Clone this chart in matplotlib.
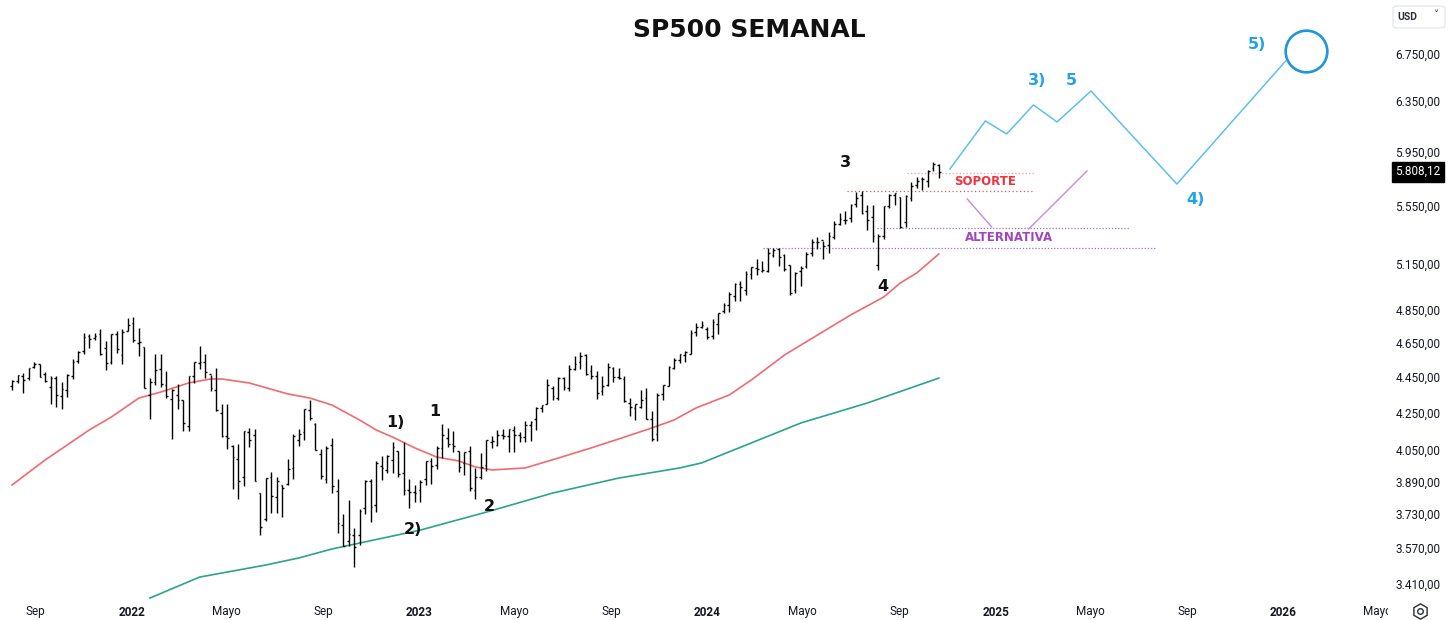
import matplotlib
matplotlib.use("Agg")
import matplotlib.pyplot as plt
import matplotlib.dates as mdates
import matplotlib.transforms as mtrans
from matplotlib.patches import FancyBboxPatch
import numpy as np
import pandas as pd

# ---------------- DATA ----------------
first_week = "2021-08-02"
n_weeks = 169

opens = [4406,4437,4462,4450,4514,4535,4474,4402,4450,4348,4386,4463,4554,4610,4701,4689,4712,4628,4548,4711,4587,4733,
         4778,4655,4632,4357,4431,4505,4412,4332,4355,4327,4188,4462,4541,4547,4474,4385,4256,4130,4081,4013,3920,4151,4135,3838,3715,3920,3818,3880,3883,3965,
         4112,4155,4270,4195,4035,3910,4084,3849,3682,3610,3636,3638,3765,3901,3780,3977,3956,4005,4053,3939,3853,3843,
         3853,3910,3999,3979,4070,4120,4091,4053,3992,4055,3855,3917,3982,4102,4085,4138,4132,4166,4136,4126,4190,4226,4283,4308,4396,4337,4450,4394,4502,4543,
         4585,4492,4464,4380,4415,4510,4458,4446,4310,4285,4289,4342,4225,4140,4364,4406,4511,4555,4587,4594,4725,4758,
         4745,4703,4772,4853,4892,4950,5026,4989,5093,5131,5111,5114,5220,5258,5218,5149,4988,5114,5142,5233,5305,5316,5284,5342,5432,5459,
         5471,5572,5638,5525,5476,5151,5350,5557,5637,5623,5442,5615,5711,5757,5737,5833,5857]
highs = [4442,4468,4480,4513,4546,4536,4486,4465,4466,4429,4475,4560,4608,4718,4715,4718,4744,4672,4713,4731,4741,4808,
         4819,4749,4632,4453,4595,4590,4490,4389,4416,4327,4465,4546,4637,4593,4471,4513,4308,4307,4082,4091,4158,4177,4168,3838,3913,3946,3918,3880,4013,4140,
         4167,4280,4326,4204,4062,4077,4120,3907,3736,3807,3671,3762,3906,3911,3999,4029,4034,4101,4053,4101,3907,3878,
         3906,4003,4015,4078,4195,4176,4156,4054,4049,4079,3964,4040,4110,4133,4163,4170,4170,4187,4154,4212,4213,4291,4298,4448,4409,4458,4456,4528,4578,4607,
         4594,4527,4491,4462,4541,4514,4511,4466,4338,4308,4385,4393,4268,4366,4415,4521,4568,4595,4610,4738,4778,4793,
         4755,4802,4842,4907,4975,5031,5048,5111,5140,5190,5179,5262,5265,5264,5222,5151,5105,5147,5239,5325,5342,5315,5376,5448,5505,5524,
         5570,5655,5669,5566,5566,5360,5555,5643,5651,5623,5636,5733,5767,5767,5822,5879,5863]
lows = [4385,4424,4367,4443,4508,4457,4428,4305,4288,4278,4347,4447,4538,4595,4630,4673,4585,4496,4533,4600,4531,4733,
        4662,4582,4395,4222,4415,4401,4342,4115,4279,4157,4161,4424,4507,4450,4381,4268,4128,4062,3859,3810,3875,4074,3900,3637,3705,3740,3743,3722,3880,3910,
        4079,4113,4218,4057,3907,3887,3838,3647,3585,3584,3491,3591,3735,3698,3746,3906,3938,3937,3918,3828,3764,3795,
        3794,3877,3886,3960,4018,4074,4048,3944,3928,3848,3809,3909,3950,4069,4080,4114,4049,4048,4099,4098,4103,4166,4260,4305,4328,4328,4385,4380,4500,4507,
        4467,4448,4335,4357,4406,4431,4449,4317,4238,4216,4284,4223,4104,4103,4329,4405,4504,4537,4547,4594,4699,4751,
        4682,4682,4714,4843,4846,4918,4920,4953,5057,5086,5104,5107,5204,5146,5108,4954,4968,5012,5128,5212,5257,5191,5234,5328,5420,5433,
        5446,5547,5497,5390,5305,5119,5325,5541,5561,5402,5406,5590,5691,5674,5696,5810,5762]
closes = [4437,4468,4441,4509,4535,4458,4433,4455,4357,4391,4471,4545,4605,4697,4683,4698,4595,4538,4712,4621,4726,4766,
          4677,4663,4398,4432,4501,4419,4349,4385,4329,4204,4463,4543,4546,4488,4393,4272,4132,4123,4024,3901,4158,4109,3901,3675,3912,3825,3899,3863,3962,4130,
          4145,4280,4228,4058,3924,4067,3873,3693,3586,3640,3583,3753,3901,3771,3993,3965,4026,4072,3934,3852,3845,3840,
          3895,3999,3973,4071,4136,4090,4079,3970,4046,3862,3917,3971,4109,4105,4138,4133,4169,4136,4124,4192,4205,4282,4299,4410,4348,4450,4399,4505,4536,4582,
          4478,4464,4370,4406,4515,4457,4450,4320,4288,4308,4327,4224,4117,4358,4415,4514,4559,4595,4604,4719,4755,4770,
          4697,4784,4840,4891,4959,5027,5006,5089,5137,5124,5117,5234,5254,5204,5123,4967,5100,5128,5223,5303,5305,5278,5347,5431,5465,5460,
          5567,5615,5505,5459,5346,5344,5554,5634,5648,5408,5626,5703,5738,5751,5815,5865,5808]

last_price = 5808.12

# moving averages
red_ma_dates = ["2021-08-02","2021-09-13","2021-11-08","2021-12-06","2022-01-10","2022-02-07","2022-03-14",
                "2022-04-11","2022-04-25","2022-05-30","2022-07-18","2022-08-15","2022-09-12","2022-10-17",
                "2022-11-07","2022-11-28","2022-12-26","2023-01-23","2023-02-20","2023-03-13","2023-04-03",
                "2023-05-15","2023-06-26","2023-08-07","2023-09-18","2023-10-23","2023-11-20","2023-12-18",
                "2024-01-29","2024-02-26","2024-04-08","2024-05-20","2024-07-01","2024-08-12","2024-09-02",
                "2024-09-23","2024-10-21"]
red_ma_vals = [3879,4006,4164,4234,4339,4373,4424,4447,4447,4424,4362,4339,4300,4218,4164,4126,4069,4021,
               4001,3970,3955,3965,4016,4069,4126,4175,4218,4284,4356,4441,4586,4706,4829,4942,5032,5098,5224]
green_ma_dates = ["2022-01-24","2022-03-28","2022-06-20","2022-08-01","2022-09-12","2023-01-02","2023-03-27",
                  "2023-06-19","2023-09-11","2023-11-27","2023-12-25","2024-02-26","2024-04-29","2024-07-22",
                  "2024-10-21"]
green_ma_vals = [3353,3445,3499,3531,3572,3660,3746,3839,3914,3965,3991,4095,4202,4311,4452]

# projected path (blue)
proj_dates = ["2024-11-04","2024-12-19","2025-01-15","2025-02-18","2025-03-20","2025-05-02","2025-08-19","2026-01-04"]
proj_vals = [5829,6201,6098,6330,6193,6445,5717,6699]
target_date, target_val = "2026-01-30", 6786

# alternative path (purple)
alt1_dates, alt1_vals = ["2024-11-26","2024-12-27"], [5608,5409]
alt2_dates, alt2_vals = ["2025-02-12","2025-04-27"], [5395,5814]

# horizontal levels: (start, end, price)
soporte_levels = [("2024-09-10","2025-02-19",5801), ("2024-06-26","2025-02-19",5666)]
alt_levels = [("2024-08-03","2025-06-20",5404), ("2024-03-12","2025-07-24",5262)]

wave_labels_black = [("3","2024-06-25",5874),("4","2024-08-11",5007),("1)","2022-12-01",4202),
                     ("1","2023-01-20",4262),("2)","2022-12-24",3661),("2","2023-03-30",3771)]
wave_labels_blue = [("3)","2025-02-23",6529),("5","2025-04-07",6529),("4)","2025-09-12",5601),("5)","2025-11-29",6839)]
soporte_text = ("SOPORTE","2024-12-18",5732)
alt_text = ("ALTERNATIVA","2025-01-18",5333)

y_ticks = [3410,3570,3730,3890,4050,4250,4450,4650,4850,5150,5550,5950,6350,6750]
x_ticks = [("2021-09-01","Sep",False),("2022-01-01","2022",True),("2022-05-01","Mayo",False),("2022-09-01","Sep",False),
           ("2023-01-01","2023",True),("2023-05-01","Mayo",False),("2023-09-01","Sep",False),("2024-01-01","2024",True),
           ("2024-05-01","Mayo",False),("2024-09-01","Sep",False),("2025-01-01","2025",True),("2025-05-01","Mayo",False),
           ("2025-09-01","Sep",False),("2026-01-01","2026",True),("2026-05-01","Mayo",False)]

# ---------------- PLOT ----------------
W, H = 1448, 620
fig = plt.figure(figsize=(W/100, H/100), dpi=100)
fig.patch.set_facecolor("white")
ax_w = 1388 / W
ax = fig.add_axes([0, 0, ax_w, 1])
ax.set_facecolor("white")
for s in ax.spines.values():
    s.set_visible(False)
ax.set_yscale("log")
ax.set_xticks([]); ax.set_yticks([])
ax.yaxis.set_minor_locator(matplotlib.ticker.NullLocator())

weeks = pd.date_range(first_week, periods=n_weeks, freq="7D")
xd = mdates.date2num(weeks.to_pydatetime())
d0 = xd[0]
px_per_day = 5.517 / 7.0
ax.set_xlim(d0 - 12/px_per_day, d0 + (1388-12)/px_per_day)
ytop = 3410*np.exp(585/776); ybot = 3410*np.exp(-35/776)
ax.set_ylim(ybot, ytop)

def dn(s):
    return mdates.date2num(pd.Timestamp(s).to_pydatetime())

# moving averages
ax.plot([dn(d) for d in red_ma_dates], red_ma_vals, color="#f06a70", lw=1.2, zorder=2)
ax.plot([dn(d) for d in green_ma_dates], green_ma_vals, color="#2aa48c", lw=1.2, zorder=2)

# OHLC bars
tick = 2.2
ax.vlines(xd, lows, highs, color="black", lw=1.0, zorder=3)
ax.hlines(opens, xd - tick, xd, color="black", lw=1.0, zorder=3)
ax.hlines(closes, xd, xd + tick, color="black", lw=1.0, zorder=3)

# levels
for s, e, p in soporte_levels[:1]:
    ax.plot([dn(s), dn(e)], [p, p], color="#f5a3aa", lw=1.0, ls=(0, (1, 1.5)), zorder=1)
for s, e, p in soporte_levels[1:]:
    ax.plot([dn(s), dn(e)], [p, p], color="#e8505c", lw=0.9, ls=(0, (1, 2)), zorder=1)
for s, e, p in alt_levels:
    ax.plot([dn(s), dn(e)], [p, p], color="#9b6fd6", lw=0.9, ls=(0, (1, 1.5)), zorder=1)

# paths
ax.plot([dn(d) for d in proj_dates], proj_vals, color="#5cc0ee", lw=1.1, zorder=4)
ax.plot(dn(target_date), target_val, marker="o", ms=30, mfc="none", mec="#1e96dc", mew=1.9, zorder=4)
ax.plot([dn(d) for d in alt1_dates], alt1_vals, color="#c98ad9", lw=1.0, zorder=4)
ax.plot([dn(d) for d in alt2_dates], alt2_vals, color="#c98ad9", lw=1.0, zorder=4)

# labels
for t, d, p in wave_labels_black:
    ax.text(dn(d), p, t, ha="center", va="center", fontsize=11.5, fontweight="bold", color="#111111", zorder=5)
for t, d, p in wave_labels_blue:
    ax.text(dn(d), p, t, ha="center", va="center", fontsize=11.5, fontweight="bold", color="#22a2e8", zorder=5)
ax.text(dn(soporte_text[1]), soporte_text[2], soporte_text[0], ha="center", va="center",
        fontsize=8.5, fontweight="bold", color="#f0323f", zorder=5)
ax.text(dn(alt_text[1]), alt_text[2], alt_text[0], ha="center", va="center",
        fontsize=8.5, fontweight="bold", color="#a246ba", zorder=5)

# title
fig.text(749/W, 1 - 30/H, "SP500 SEMANAL", ha="center", va="center", fontsize=18, fontweight="bold", color="#111111")

# price axis
tr = mtrans.blended_transform_factory(fig.transFigure, ax.transData)
def eu(v):
    s = f"{v:,.2f}"
    return s.replace(",", "X").replace(".", ",").replace("X", ".")
for v in y_ticks:
    fig.text(1418/W, v, eu(v), transform=tr, ha="center", va="center", fontsize=8.5, color="#131722", family="Roboto")
fig.text(1418/W, last_price, eu(last_price), transform=tr, ha="center", va="center", fontsize=8.5,
         color="white", family="Roboto",
         bbox=dict(boxstyle="square,pad=0.3", fc="black", ec="black"))

# currency box
box = FancyBboxPatch((1393/W, 1 - 28/H), 52/W, 22/H, boxstyle="round,pad=0,rounding_size=0.004",
                     transform=fig.transFigure, fc="white", ec="#e0e3eb", lw=0.8)
fig.patches.append(box)
fig.text(1397/W, 1 - 16.5/H, "USD", ha="left", va="center", fontsize=7.5, fontweight="bold", color="#2a2e39", family="Roboto")
fig.text(1436/W, 1 - 15/H, "\u02c5", ha="center", va="center", fontsize=7.5, color="#2a2e39")

# date axis
trx = mtrans.blended_transform_factory(ax.transData, ax.transAxes)
for d, lab, bold in x_ticks:
    t = ax.text(dn(d), 1 - 612/H, lab, transform=trx, ha="center", va="center", fontsize=8.5,
                fontweight="bold" if bold else "normal", color="#131722", family="Roboto")
    t.set_clip_on(True)
    t.set_clip_box(ax.bbox)

# settings icon
fig.lines.append(matplotlib.lines.Line2D([1420/W], [1 - 611/H], transform=fig.transFigure, marker="h",
                                         ms=11, mfc="none", mec="#2a2e39", mew=1.0))
fig.lines.append(matplotlib.lines.Line2D([1420/W], [1 - 611/H], transform=fig.transFigure, marker="o",
                                         ms=4, mfc="none", mec="#2a2e39", mew=1.0))

fig.savefig("out.png", dpi=100, facecolor="white")
